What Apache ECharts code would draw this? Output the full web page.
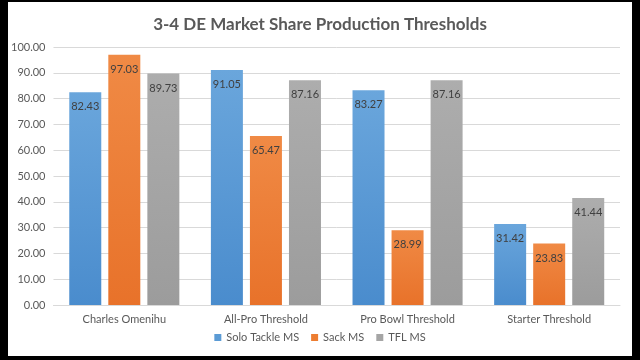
<!DOCTYPE html>
<html>
<head>
<meta charset="utf-8">
<script src="https://cdn.jsdelivr.net/npm/echarts@6/dist/echarts.min.js"></script>
<style>
html,body{margin:0;padding:0;background:#000;width:640px;height:360px;overflow:hidden;}
#main{position:absolute;left:8px;top:2px;width:624px;height:354px;background:#fff;}
</style>
</head>
<body>
<div id="main"></div>
<script>
// chart data
var categories = ['Charles Omenihu', 'All-Pro Threshold', 'Pro Bowl Threshold', 'Starter Threshold'];
var soloTackle = [82.43, 91.05, 83.27, 31.42];
var sackMS = [97.03, 65.47, 28.99, 23.83];
var tflMS = [89.73, 87.16, 87.16, 41.44];
var seriesNames = ['Solo Tackle MS', 'Sack MS', 'TFL MS'];

var font = 'Lato, "Open Sans", sans-serif';

function grad(top, bottom) {
	return new echarts.graphic.LinearGradient(0, 0, 0, 1, [
		{offset: 0, color: top},
		{offset: 1, color: bottom}
	]);
}

function makeSeries(name, data, c1, c2) {
	return {
		name: name,
		type: 'bar',
		data: data,
		barWidth: 32,
		barGap: '22%',
		itemStyle: {color: grad(c1, c2)},
		label: {
			show: true,
			position: 'insideTop',
			distance: 9,
			color: '#404040',
			fontFamily: font,
			fontSize: 11,
			formatter: function (p) { return p.value.toFixed(2); }
		}
	};
}

var myChart = echarts.init(document.getElementById('main'));
var option = {
	animation: false,
	title: {
		text: '3-4 DE Market Share Production Thresholds',
		left: 'center',
		top: 9,
		textStyle: {fontFamily: font, fontSize: 17, fontWeight: 'bold', color: '#595959'}
	},
	legend: {
		data: [
			{name: seriesNames[0], itemStyle: {color: '#5b9bd5'}},
			{name: seriesNames[1], itemStyle: {color: '#ed7d31'}},
			{name: seriesNames[2], itemStyle: {color: '#a5a5a5'}}
		],
		bottom: 8,
		left: 'center',
		itemWidth: 7,
		itemHeight: 7,
		itemGap: 12,
		icon: 'rect',
		textStyle: {fontFamily: font, fontSize: 11, color: '#595959'}
	},
	grid: {left: 45, right: 12, top: 45, bottom: 51},
	xAxis: {
		type: 'category',
		data: categories,
		axisTick: {show: false},
		axisLine: {lineStyle: {color: '#d9d9d9'}},
		axisLabel: {fontFamily: font, fontSize: 11, color: '#595959', margin: 9}
	},
	yAxis: {
		type: 'value',
		min: 0,
		max: 100,
		interval: 10,
		axisLine: {show: false},
		axisTick: {show: false},
		splitLine: {lineStyle: {color: '#d9d9d9'}},
		axisLabel: {
			fontFamily: font, fontSize: 11, color: '#595959', margin: 8,
			formatter: function (v) { return v.toFixed(2); }
		}
	},
	series: [
		makeSeries(seriesNames[0], soloTackle, '#6aa6dc', '#4a8ccd'),
		makeSeries(seriesNames[1], sackMS, '#f08a45', '#e8722a'),
		makeSeries(seriesNames[2], tflMS, '#adadad', '#9c9c9c')
	]
};
myChart.setOption(option);
</script>
</body>
</html>
